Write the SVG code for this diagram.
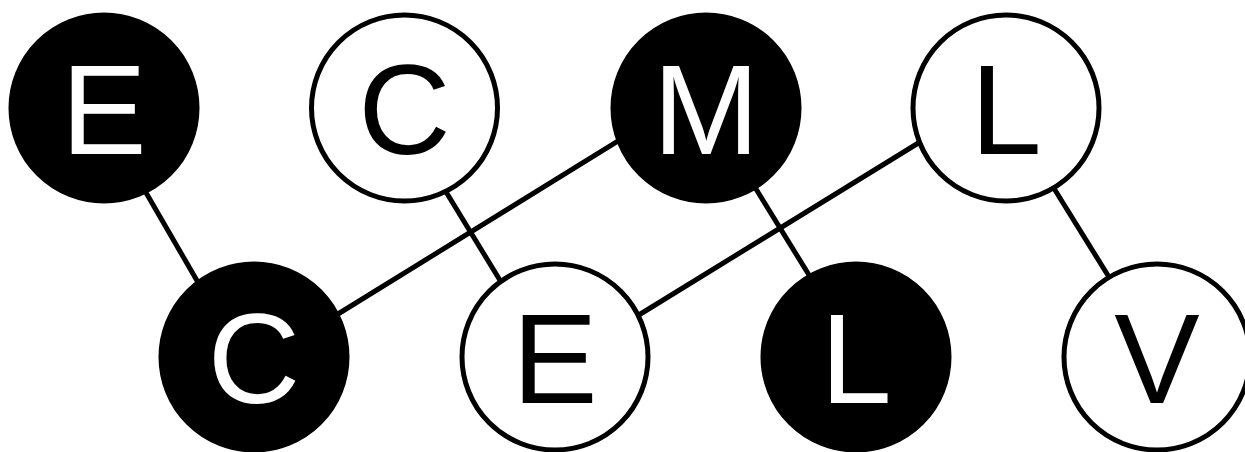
<svg xmlns="http://www.w3.org/2000/svg" width="1245" height="452" viewBox="0 0 1245 452">
<style>
.edge{stroke:#000;stroke-width:5;fill:none}
.dark circle{fill:#000;stroke:#000;stroke-width:5}
.light circle{fill:#fff;stroke:#000;stroke-width:5}
text{font-family:"Liberation Sans",Arial,sans-serif;font-size:128px;text-anchor:middle}
.dark text{fill:#fff}
.light text{fill:#000}
</style>
<rect width="1245" height="452" fill="#fff"/>
<g id="connectors">
<line class="edge" x1="141" y1="184" x2="203" y2="291"/>
<line class="edge" x1="441.5" y1="184.5" x2="505" y2="288.5"/>
<line class="edge" x1="751.4" y1="181.5" x2="813" y2="281.5"/>
<line class="edge" x1="1049.7" y1="181.5" x2="1113" y2="283.5"/>
<line class="edge" x1="331.5" y1="318" x2="623.5" y2="137.7"/>
<line class="edge" x1="631.5" y1="319.5" x2="926.5" y2="138"/>
</g>
<g id="n1" class="dark"><circle cx="104" cy="108" r="93"/><text x="104" y="154">E</text></g>
<g id="n2" class="light"><circle cx="404.5" cy="108" r="93"/><text x="404.5" y="154">C</text></g>
<g id="n3" class="dark"><circle cx="706" cy="108" r="93"/><text x="706" y="154">M</text></g>
<g id="n4" class="light"><circle cx="1006" cy="108" r="93"/><text x="1006" y="154">L</text></g>
<g id="n5" class="dark"><circle cx="254" cy="357" r="93"/><text x="254" y="403">C</text></g>
<g id="n6" class="light"><circle cx="555" cy="357" r="93"/><text x="555" y="403">E</text></g>
<g id="n7" class="dark"><circle cx="856" cy="357" r="93"/><text x="856" y="403">L</text></g>
<g id="n8" class="light"><circle cx="1157" cy="357" r="93"/><text x="1157" y="403">V</text></g>
</svg>
